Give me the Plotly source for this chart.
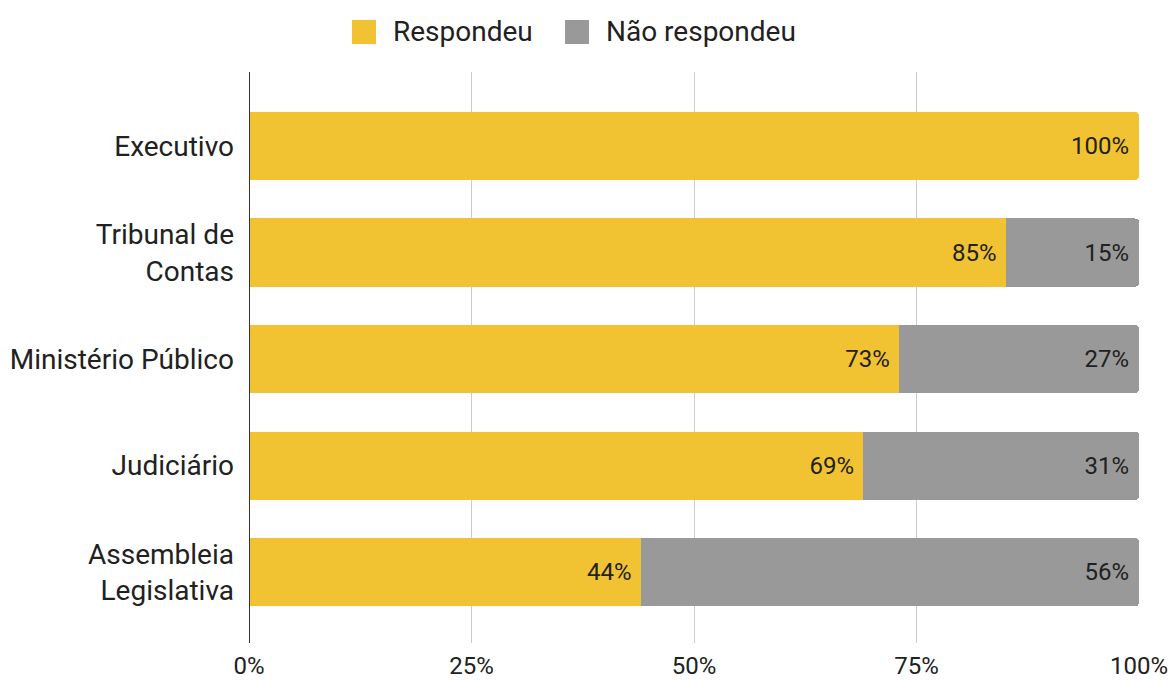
import plotly.graph_objects as go

categories = ["Executivo", "Tribunal de<br>Contas", "Ministério Público", "Judiciário", "Assembleia<br>Legislativa"]
respondeu = [100, 85, 73, 69, 44]
nao_respondeu = [0, 15, 27, 31, 56]
tick_vals = [0, 25, 50, 75, 100]
tick_text = ["0%", "25%", "50%", "75%", "100%"]
series_names = ["Respondeu", "Não respondeu"]

YELLOW = "#F1C232"
GRAY = "#999999"
TEXT = "#212121"
FONT = "Roboto"
NBSP = "\u00a0"

W, H = 1169, 680
M_L, M_R, M_T, M_B = 249, 30, 72, 37
PLOT_W = W - M_L - M_R
PLOT_H = H - M_T - M_B


def px_x(px):
    return (px - M_L) / PLOT_W


def px_y(py):
    return (H - M_B - py) / PLOT_H


fig = go.Figure()
for name, values, color in [(series_names[0], respondeu, YELLOW),
                            (series_names[1], nao_respondeu, GRAY)]:
    fig.add_trace(go.Bar(
        y=categories, x=values, orientation="h", name=name,
        marker=dict(color=color, line=dict(width=0)),
        text=[f"{v}%{NBSP}" if v > 0 else "" for v in values],
        textposition="inside", insidetextanchor="end",
        textfont=dict(family=FONT, size=24, color=TEXT),
        width=0.64, showlegend=False, cliponaxis=False,
    ))

# Legend: swatch + label per series, laid out across the top
shapes = [dict(type="line", xref="x", yref="paper", x0=0, x1=0, y0=0, y1=1,
               line=dict(color="#333333", width=2), layer="above")]
annotations = []
legend_items = [(series_names[0], YELLOW, 352, 391), (series_names[1], GRAY, 565, 604)]
for name, color, sw_x, label_x in legend_items:
    shapes.append(dict(
        type="rect", xref="paper", yref="paper",
        x0=px_x(sw_x), x1=px_x(sw_x + 24), y0=px_y(44), y1=px_y(20),
        fillcolor=color, line=dict(width=0), layer="above",
    ))
    annotations.append(dict(
        text=name, xref="paper", yref="paper", x=px_x(label_x), y=px_y(32),
        xanchor="left", yanchor="middle", showarrow=False,
        font=dict(family=FONT, size=28, color=TEXT),
    ))

fig.update_layout(
    barmode="stack",
    barcornerradius=4,
    width=W, height=H,
    margin=dict(l=M_L, r=M_R, t=M_T, b=M_B, autoexpand=False),
    paper_bgcolor="white", plot_bgcolor="white",
    font=dict(family=FONT, size=28, color=TEXT),
    showlegend=False,
    xaxis=dict(
        range=[0, 100], tickvals=tick_vals, ticktext=tick_text,
        showgrid=True, gridcolor="#CCCCCC", gridwidth=1,
        zeroline=False, showline=False, automargin=False,
        tickfont=dict(family=FONT, size=24, color=TEXT),
        ticklabelstandoff=6, fixedrange=True,
    ),
    yaxis=dict(
        categoryorder="array", categoryarray=categories,
        autorange=False, range=[4.665, -0.695], automargin=False,
        showgrid=False, zeroline=False,
        tickfont=dict(family=FONT, size=28, color=TEXT),
        ticklabelstandoff=14, fixedrange=True,
    ),
    shapes=shapes,
    annotations=annotations,
)

fig.write_html("out.html")
